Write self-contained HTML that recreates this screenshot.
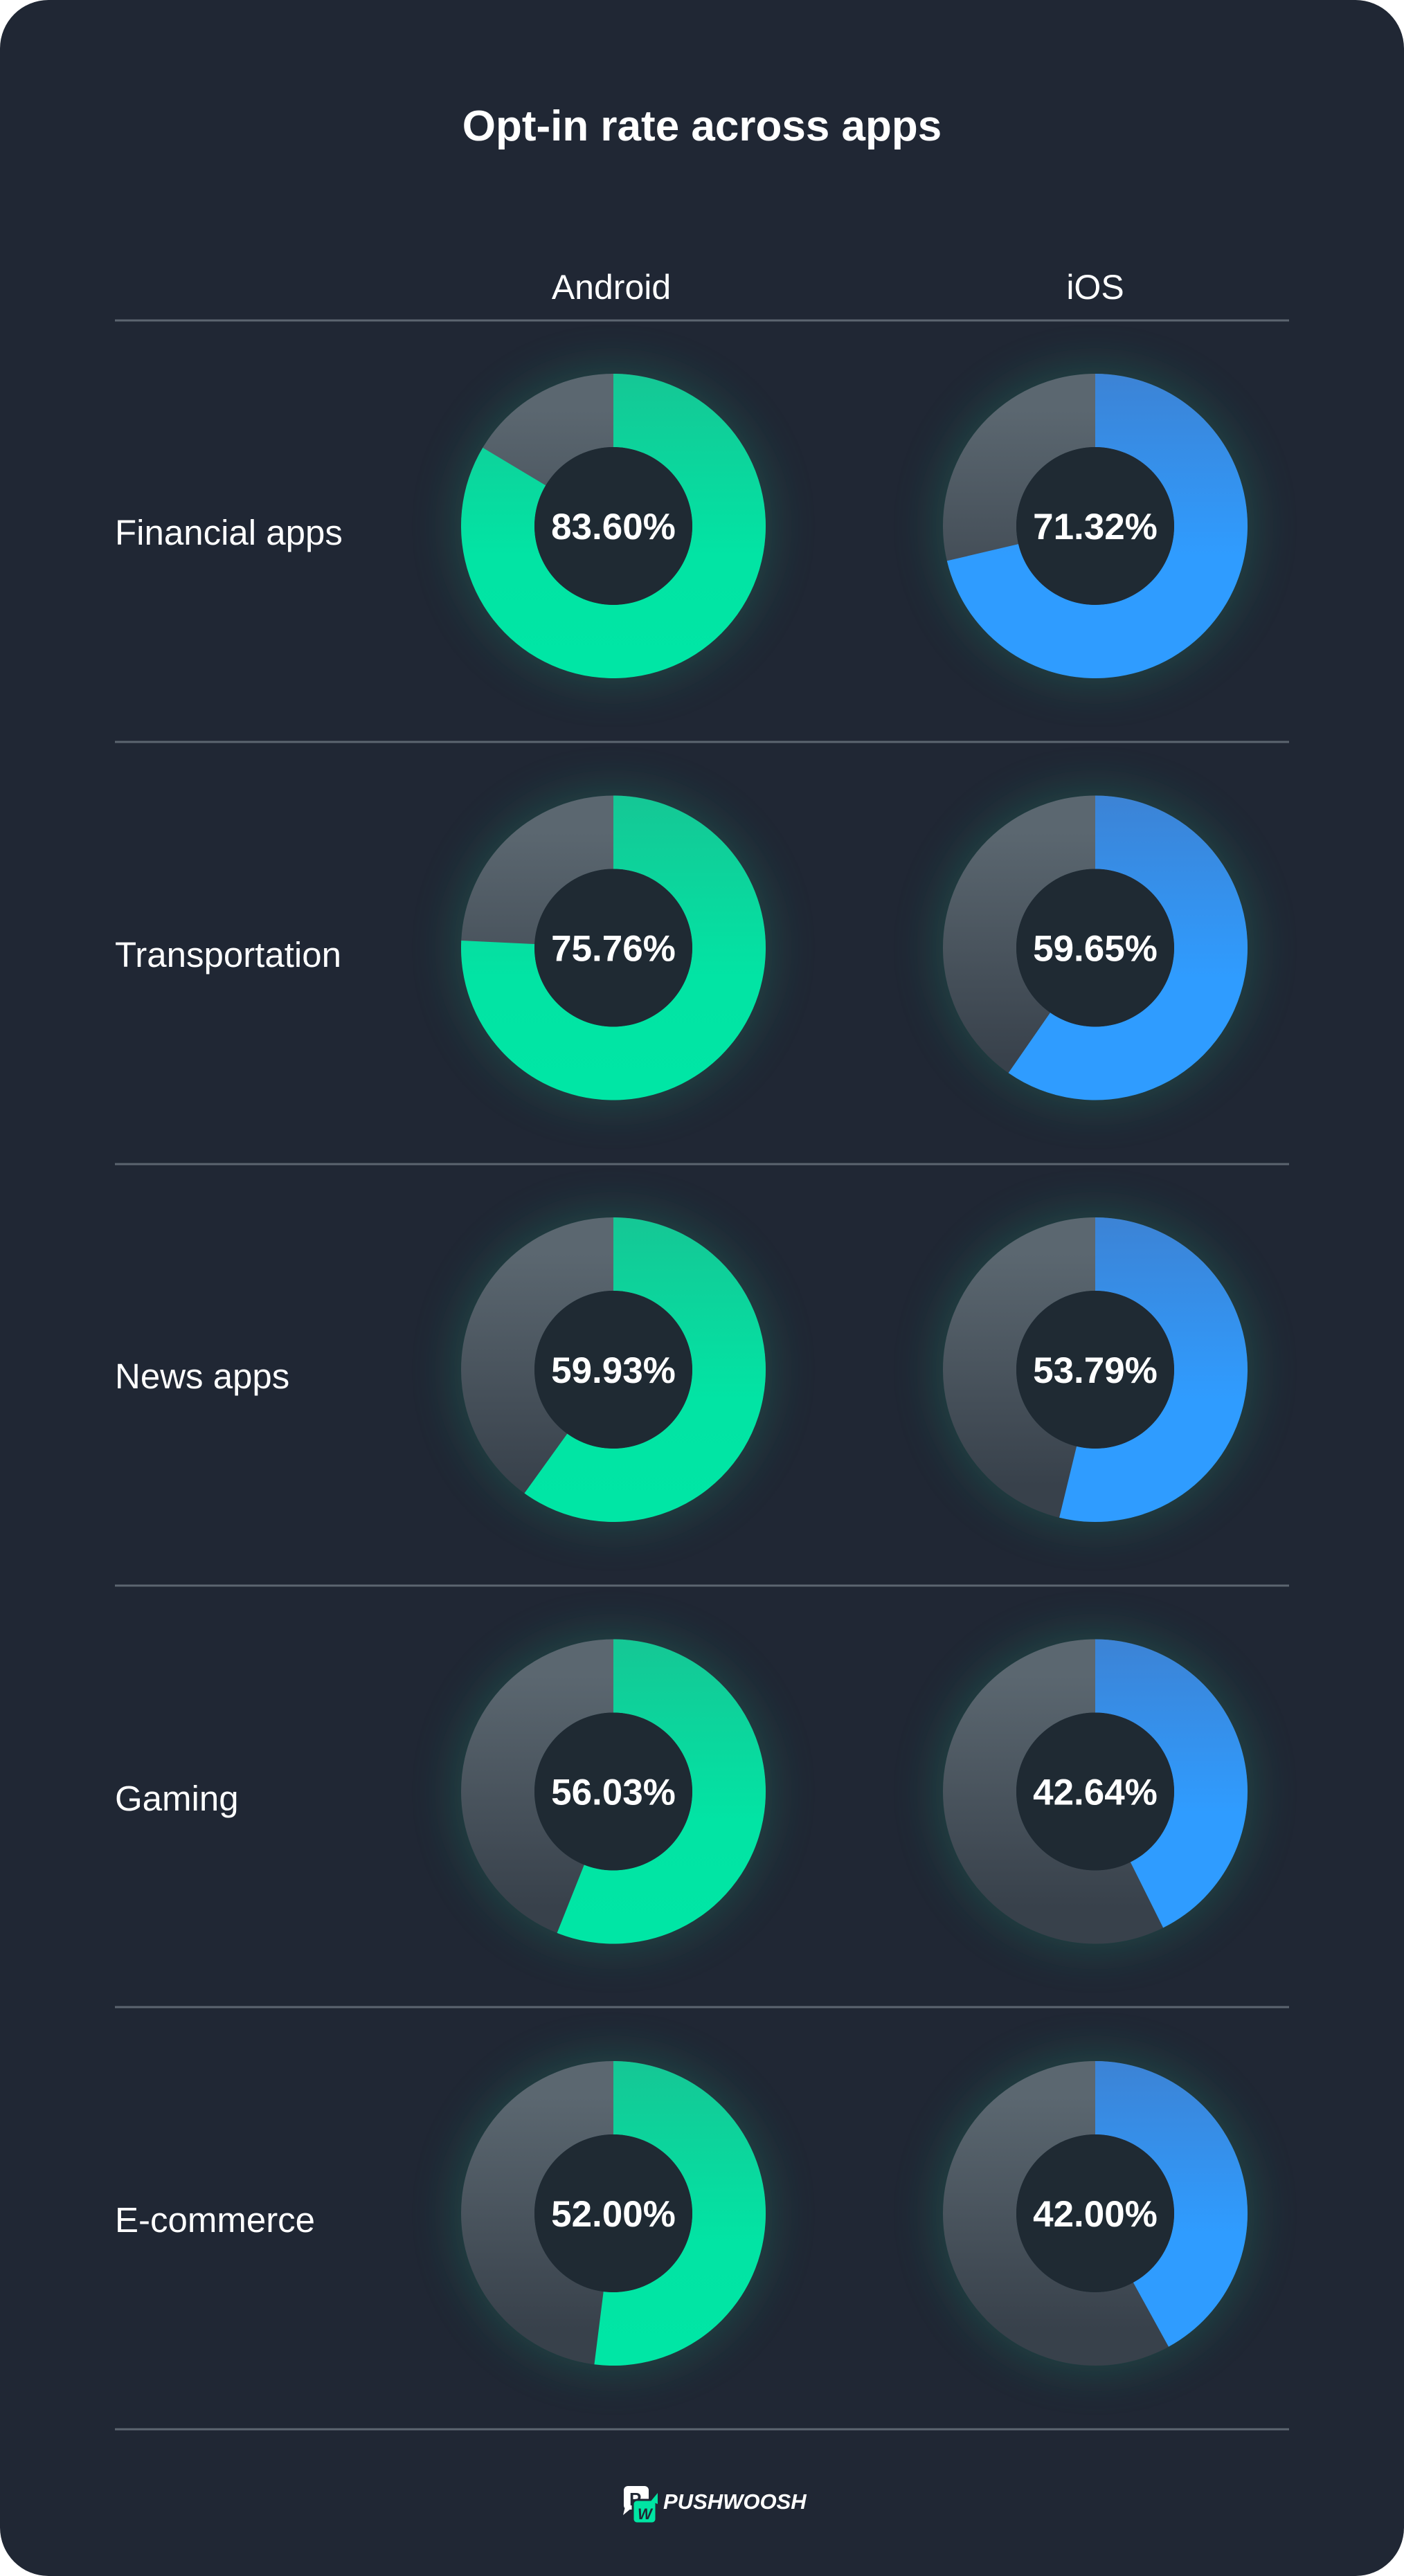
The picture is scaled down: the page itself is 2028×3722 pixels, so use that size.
<!DOCTYPE html>
<html><head><meta charset="utf-8"><style>
html,body{margin:0;padding:0;background:#fff;}
svg{display:block;}
text{font-family:"Liberation Sans",sans-serif;fill:#fff;}
</style></head><body>
<svg width="2028" height="3722" viewBox="0 0 2028 3722" xmlns="http://www.w3.org/2000/svg">
<defs>
<linearGradient id="gg" x1="0" y1="0" x2="0" y2="1"><stop offset="0" stop-color="#15c795"/><stop offset="0.6" stop-color="#02e4a4"/><stop offset="1" stop-color="#00e6a5"/></linearGradient>
<linearGradient id="bg" x1="0" y1="0" x2="0" y2="1"><stop offset="0" stop-color="#3c83d5"/><stop offset="0.6" stop-color="#2f9cff"/><stop offset="1" stop-color="#2f9cff"/></linearGradient>
<linearGradient id="gr" x1="0" y1="0" x2="0" y2="1"><stop offset="0" stop-color="#5b6770"/><stop offset="1" stop-color="#38414b"/></linearGradient>
<filter id="glow" x="-50%" y="-50%" width="200%" height="200%"><feGaussianBlur stdDeviation="30"/></filter>
</defs>
<rect x="0" y="0" width="2028" height="3722" rx="70" fill="#202734"/>
<text x="1014" y="203" font-size="62" font-weight="bold" text-anchor="middle">Opt-in rate across apps</text>
<text x="883" y="432" font-size="50" text-anchor="middle">Android</text>
<text x="1582" y="432" font-size="50" text-anchor="middle">iOS</text>
<g stroke="#5c6570" stroke-width="3">
<line x1="166" y1="463" x2="1862" y2="463"/>
<line x1="166" y1="1072" x2="1862" y2="1072"/>
<line x1="166" y1="1682" x2="1862" y2="1682"/>
<line x1="166" y1="2291" x2="1862" y2="2291"/>
<line x1="166" y1="2900" x2="1862" y2="2900"/>
<line x1="166" y1="3510" x2="1862" y2="3510"/>
</g>
<g font-size="51">
<text x="166" y="787">Financial apps</text>
<text x="166" y="1397">Transportation</text>
<text x="166" y="2006">News apps</text>
<text x="166" y="2616">Gaming</text>
<text x="166" y="3225">E-commerce</text>
</g>
<g id="donuts">
</g>
<script>
var rows=[[83.60,71.32],[75.76,59.65],[59.93,53.79],[56.03,42.64],[52.00,42.00]];
var ns="http://www.w3.org/2000/svg",g=document.getElementById("donuts");
function el(t,a){var e=document.createElementNS(ns,t);for(var k in a)e.setAttribute(k,a[k]);g.appendChild(e);return e;}
function sector(cx,cy,R,r,p){
 var a=p/100*2*Math.PI, la=p>50?1:0;
 var sx=Math.sin(a),sy=-Math.cos(a);
 return "M"+cx+","+(cy-R)+" A"+R+","+R+" 0 "+la+" 1 "+(cx+R*sx)+","+(cy+R*sy)+
  " L"+(cx+r*sx)+","+(cy+r*sy)+" A"+r+","+r+" 0 "+la+" 0 "+cx+","+(cy-r)+" Z";
}
rows.forEach(function(r,i){
 var cy=760+i*609.5;
 [[886,r[0],"gg"],[1582,r[1],"bg"]].forEach(function(d){
  var cx=d[0],p=d[1];
  el("circle",{cx:cx,cy:cy,r:175,fill:"none",stroke:"#1b6b5a","stroke-width":110,opacity:0.45,filter:"url(#glow)"});
  el("circle",{cx:cx,cy:cy,r:167,fill:"none",stroke:"url(#gr)","stroke-width":106});
  el("path",{d:sector(cx,cy,220,114,p),fill:"url(#"+d[2]+")"});
  el("circle",{cx:cx,cy:cy,r:114,fill:"#1f2a33"});
  var t=el("text",{x:cx,y:cy+19,"font-size":53,"font-weight":"bold","text-anchor":"middle"});
  t.textContent=p.toFixed(2)+"%";
 });
});
</script>
<g>
<rect x="901" y="3592" width="36" height="34" rx="6" fill="#fff"/>
<polygon points="903,3622 900,3634 912,3624" fill="#fff"/>
<text x="909" y="3620" font-size="26" font-weight="bold" style="fill:#202734">P</text>
<rect x="914" y="3612" width="34" height="34" rx="6" fill="#00e5a3" stroke="#202734" stroke-width="3"/>
<polygon points="940,3614 950,3602 950,3618" fill="#00e5a3"/>
<text x="921" y="3640" font-size="22" font-weight="bold" font-style="italic" style="fill:#202734">W</text>
<text x="958" y="3625" font-size="31" font-weight="bold" font-style="italic">PUSHWOOSH</text>
</g>
</svg>
</body></html>
